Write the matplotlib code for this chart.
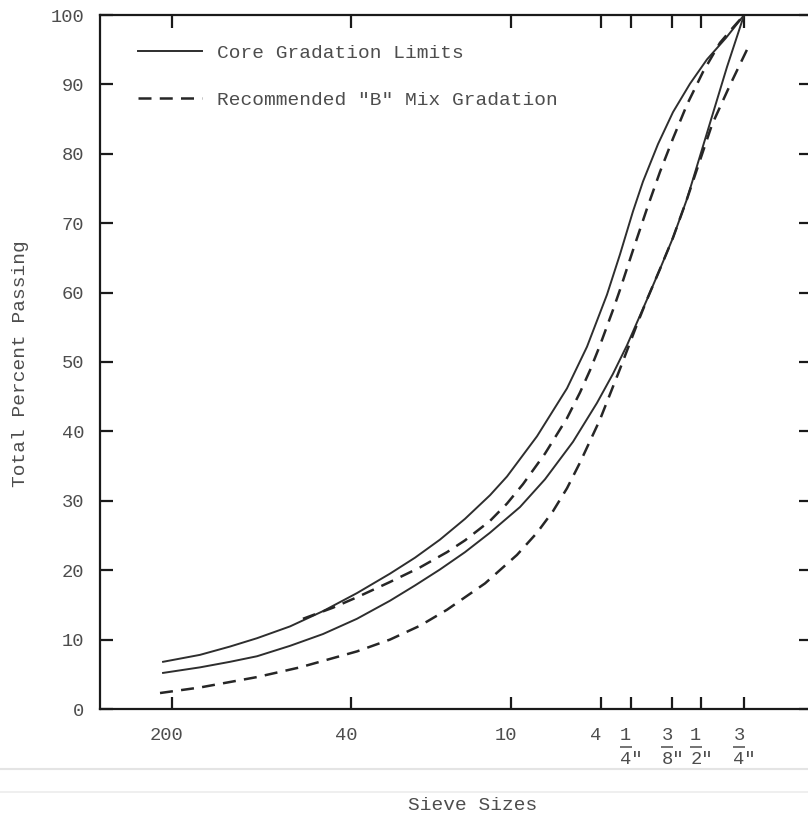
import matplotlib
matplotlib.use("Agg")
import matplotlib.pyplot as plt
import matplotlib.transforms as mtransforms
from matplotlib.ticker import NullLocator, FixedLocator
from matplotlib.lines import Line2D

# sieve openings (mm) where the axis is marked, and how they are labelled
sieve_mm = [0.075, 0.425, 2.0, 4.75, 6.35, 9.5, 12.5, 19.0]
sieve_labels = ["200", "40", "10", "4", "1/4\"", "3/8\"", "1/2\"", "3/4\""]
pct_ticks = [0, 10, 20, 30, 40, 50, 60, 70, 80, 90, 100]

# core gradation limits (solid)
core_upper_mm = [0.0688, 0.0983, 0.1315, 0.1707, 0.2349, 0.3232, 0.4490, 0.6179, 0.7870,
                 1.002, 1.277, 1.626, 1.917, 2.563, 3.425, 4.157, 5.043, 5.719, 6.485,
                 7.144, 8.262, 9.550, 11.26, 13.27, 15.95, 19.0]
core_upper_pct = [6.8, 7.8, 9.0, 10.2, 11.9, 14.1, 16.7, 19.5, 21.8,
                  24.4, 27.4, 30.8, 33.5, 39.3, 46.2, 52.2, 59.7, 65.5, 71.7,
                  76.0, 81.4, 86.0, 90.1, 93.6, 96.7, 100]
core_lower_mm = [0.0688, 0.0983, 0.1315, 0.1707, 0.2349, 0.3232, 0.4490, 0.6179, 0.7870,
                 1.002, 1.277, 1.626, 2.174, 2.769, 3.630, 4.578, 5.345, 6.119, 7.426,
                 8.423, 9.550, 10.94, 13.27, 16.10, 19.0]
core_lower_pct = [5.2, 6.0, 6.8, 7.6, 9.1, 10.8, 13.0, 15.6, 17.8,
                  20.1, 22.6, 25.4, 29.1, 33.1, 38.5, 44.1, 48.3, 52.4, 59.0,
                  63.4, 67.9, 73.5, 83.0, 92.5, 100]

# recommended "B" mix gradation band (dashed)
mix_upper_mm = [0.2663, 0.3561, 0.4490, 0.6179, 0.8260, 1.073, 1.277, 1.626, 1.917,
                2.238, 2.769, 3.425, 3.884, 4.279, 4.713, 5.345, 5.719, 6.485, 7.426,
                8.423, 9.550, 10.94, 12.77, 15.05, 17.07, 19.0]
mix_upper_pct = [13.0, 14.6, 16.1, 18.3, 20.4, 22.6, 24.3, 27.1, 29.6,
                 32.4, 36.8, 41.9, 45.6, 48.8, 52.4, 57.5, 60.4, 66.1, 72.1,
                 77.4, 82.2, 87.1, 91.8, 96.0, 98.2, 100]
mix_lower_mm = [0.0668, 0.0983, 0.1707, 0.2587, 0.4490, 0.6179, 0.8260, 1.073, 1.550,
                2.111, 2.563, 2.991, 3.425, 3.884, 4.713, 5.719, 6.741, 7.426, 8.423,
                9.550, 10.94, 13.93, 16.58, 19.73]
mix_lower_pct = [2.3, 3.1, 4.6, 6.0, 8.3, 10.0, 12.0, 14.3, 18.1,
                 22.2, 25.4, 28.5, 31.8, 35.5, 41.7, 49.0, 55.4, 59.0, 63.4,
                 67.9, 73.5, 84.2, 89.9, 95.3]

FONT = ["Liberation Mono", "DejaVu Sans Mono"]
TXT = "#4d4d4d"
INK = "#262626"

plt.rcParams["font.family"] = FONT

fig = plt.figure(figsize=(8.08, 8.18), dpi=100)
ax = fig.add_axes([99.5 / 808, 109 / 818, 711.5 / 808, 694 / 818])

solid = dict(color="#2e2e2e", lw=1.4, solid_joinstyle="round")
dashed = dict(color=INK, lw=1.8, ls=(0, (5.2, 3.3)))
ax.plot(core_upper_mm, core_upper_pct, label="Core Gradation Limits", **solid)
ax.plot(core_lower_mm, core_lower_pct, **solid)
ax.plot(mix_upper_mm, mix_upper_pct, label='Recommended "B" Mix Gradation', **dashed)
ax.plot(mix_lower_mm, mix_lower_pct, **dashed)

ax.set_xscale("log")
ax.set_xlim(0.0372, 36.3)
ax.set_ylim(0, 100)
ax.xaxis.set_major_locator(FixedLocator(sieve_mm))
ax.xaxis.set_minor_locator(NullLocator())
ax.set_yticks(pct_ticks)

for s in ax.spines.values():
    s.set_linewidth(1.6)
    s.set_color("#1a1a1a")
ax.tick_params(which="major", direction="in", length=9, width=1.6,
               color="#1a1a1a", top=True, right=True)
ax.tick_params(axis="x", labelbottom=False)
ax.tick_params(axis="y", labelsize=13.5, labelcolor=TXT, pad=11)

# sieve labels: plain numbers, inch sizes as stacked fractions
base = ax.get_xaxis_transform()
for mm, lab in zip(sieve_mm, sieve_labels):
    if "/" in lab:
        num, den = lab.split("/")
        ax.text(mm, 0, num, transform=mtransforms.offset_copy(base, fig, x=-5, y=-27, units="dots"),
                ha="center", va="center", fontsize=13.5, color=TXT)
        ax.plot([mm], [0], marker="_", ms=8, mew=1.1, color=TXT, clip_on=False,
                transform=mtransforms.offset_copy(base, fig, x=-5, y=-38, units="dots"))
        ax.text(mm, 0, den, transform=mtransforms.offset_copy(base, fig, x=-10.6, y=-50, units="dots"),
                ha="left", va="center", fontsize=13.5, color=TXT)
    else:
        ax.text(mm, 0, lab, transform=mtransforms.offset_copy(base, fig, x=-5, y=-27, units="dots"),
                ha="center", va="center", fontsize=13.5, color=TXT)

leg = ax.legend(loc="upper left", bbox_to_anchor=(0.054, 0.958), frameon=False,
                fontsize=14, handlelength=3.3, handletextpad=0.75, labelspacing=1.5,
                borderpad=0, borderaxespad=0)
for t in leg.get_texts():
    t.set_color(TXT)

fig.text(21 / 808, 1 - 364 / 818, "Total Percent Passing", rotation=90,
         ha="center", va="center", fontsize=14, color=TXT)
fig.text(473 / 808, 1 - 805 / 818, "Sieve Sizes", ha="center", va="center",
         fontsize=14, color=TXT)

# faint rules left by the scanned page
fig.add_artist(Line2D([0, 1], [1 - 769 / 818] * 2, transform=fig.transFigure, color="#e4e4e4", lw=1.5))
fig.add_artist(Line2D([0, 1], [1 - 792 / 818] * 2, transform=fig.transFigure, color="#ececec", lw=1.2))

fig.savefig("out.png", dpi=100, facecolor="white")
